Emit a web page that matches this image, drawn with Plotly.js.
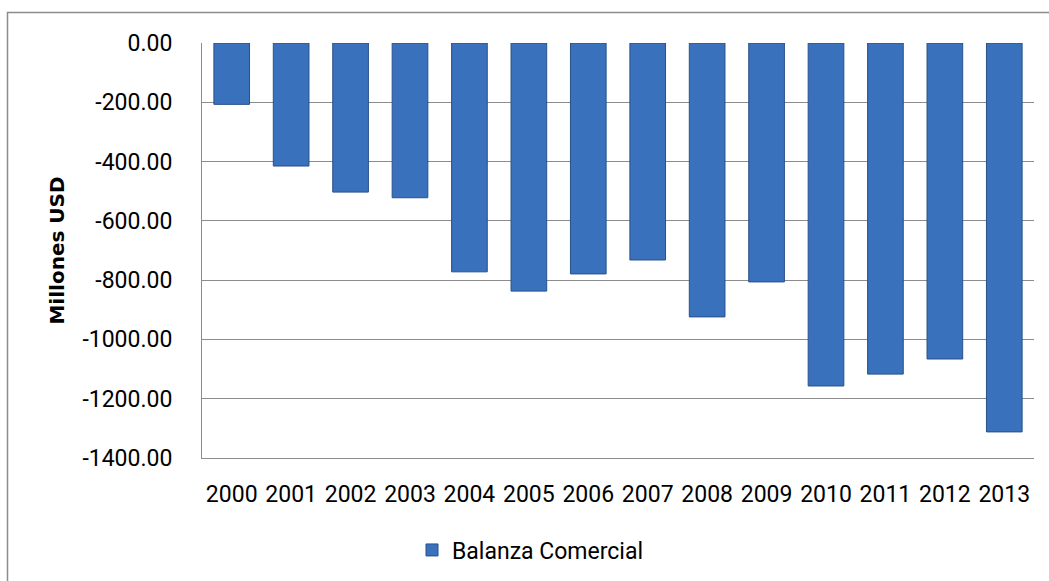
<!DOCTYPE html>
<html>
<head>
<meta charset="utf-8">
<script src="https://cdn.plot.ly/plotly-3.0.1.min.js"></script>
<style>
  html, body { margin: 0; padding: 0; background: #fff; }
  #chart { width: 1049px; height: 581px; }
</style>
</head>
<body>
<div id="chart"></div>
<script>
const years = ["2000","2001","2002","2003","2004","2005","2006","2007","2008","2009","2010","2011","2012","2013"];
const balanzaComercial = [-207, -415, -503, -522, -772, -837, -779, -732, -924, -806, -1157, -1117, -1066, -1312];
const seriesName = "Balanza Comercial";
const yTickVals = [0, -200, -400, -600, -800, -1000, -1200, -1400];
const yTickText = yTickVals.map(v => v.toFixed(2));
const yTitle = "Millones USD";

const W = 1049, H = 581;
const M = {l: 202, r: 15, t: 43, b: 123};
const pw = W - M.l - M.r, ph = H - M.t - M.b;
const px = X => (X - M.l) / pw;
const py = Y => (H - M.b - Y) / ph;

const trace = {
  type: 'bar',
  x: years,
  y: balanzaComercial,
  name: seriesName,
  showlegend: true,
  marker: { color: '#3a71bc', line: { color: '#27508a', width: 1 } },
  hoverinfo: 'x+y'
};

const layout = {
  width: W, height: H,
  margin: M,
  paper_bgcolor: '#ffffff',
  plot_bgcolor: '#ffffff',
  bargap: 0.4,
  font: { family: 'Roboto, sans-serif', size: 23, color: '#000' },
  xaxis: {
    type: 'category',
    showgrid: false,
    showline: true,
    linecolor: '#8c8c8c',
    linewidth: 1,
    ticks: '',
    ticklabelstandoff: 15,
    tickfont: { family: 'Roboto, sans-serif', size: 23, color: '#000' }
  },
  yaxis: {
    range: [-1400, 0],
    tickvals: yTickVals,
    ticktext: yTickText,
    showgrid: true,
    gridcolor: '#8c8c8c',
    gridwidth: 1,
    zeroline: false,
    showline: true,
    linecolor: '#8c8c8c',
    linewidth: 1,
    ticks: '',
    ticklabelstandoff: 24,
    tickfont: { family: 'Roboto, sans-serif', size: 23, color: '#000' },
    title: { text: yTitle, font: { family: 'DejaVu Sans, sans-serif', size: 20, color: '#000', weight: 'bold' }, standoff: 12 }
  },
  showlegend: true,
  legend: {
    orientation: 'h',
    xref: 'container', yref: 'container',
    x: 412 / W, xanchor: 'left',
    y: 31 / H, yanchor: 'middle',
    font: { family: 'Roboto, sans-serif', size: 23, color: '#000' },
    bgcolor: 'rgba(0,0,0,0)'
  },
  shapes: [{
    type: 'rect', xref: 'paper', yref: 'paper',
    x0: px(7.5), x1: px(1070), y0: py(600), y1: py(12.5),
    line: { color: '#8c8c8c', width: 1.5 },
    fillcolor: 'rgba(0,0,0,0)', layer: 'below'
  }]
};

Plotly.newPlot('chart', [trace], layout, { displayModeBar: false, staticPlot: true });
</script>
</body>
</html>
